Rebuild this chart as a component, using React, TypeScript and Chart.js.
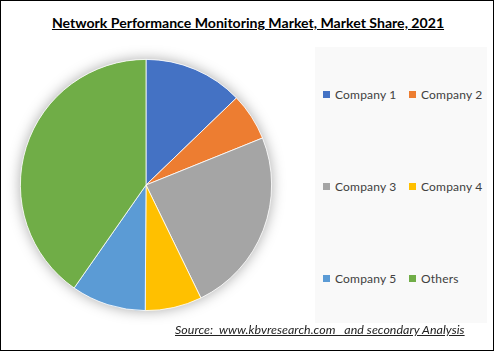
import React, { useEffect, useRef } from "react";
import { Chart, registerables } from "chart.js";

Chart.register(...registerables);

const categories = ["Company 1", "Company 2", "Company 3", "Company 4", "Company 5", "Others"];
const shares = [12.8, 6.1, 23.9, 7.3, 9.6, 40.3];
const colors = ["#4472C4", "#ED7D31", "#A5A5A5", "#FFC000", "#5B9BD5", "#70AD47"];
const titleText = "Network Performance Monitoring Market, Market Share, 2021";
const sourceText = "Source:  www.kbvresearch.com   and secondary Analysis";

const FONT = "Lato, 'Open Sans', sans-serif";

const shadowPlugin = {
  id: "pieShadow",
  beforeDatasetsDraw(chart: any) {
    const meta = chart.getDatasetMeta(0);
    const arc = meta.data[0];
    if (!arc) return;
    const ctx = chart.ctx;
    ctx.save();
    ctx.shadowColor = "rgba(0,0,0,0.35)";
    ctx.shadowBlur = 14;
    ctx.shadowOffsetX = 0;
    ctx.shadowOffsetY = 0;
    ctx.beginPath();
    ctx.arc(arc.x, arc.y, arc.outerRadius, 0, Math.PI * 2);
    ctx.fillStyle = "#ffffff";
    ctx.fill();
    ctx.restore();
  },
};

export default function App() {
  const ref = useRef<HTMLCanvasElement | null>(null);

  useEffect(() => {
    if (!ref.current) return;
    const chart = new Chart(ref.current, {
      type: "pie",
      data: {
        labels: categories,
        datasets: [
          {
            data: shares,
            backgroundColor: colors,
            borderColor: "#ffffff",
            borderWidth: 0.8,
          },
        ],
      },
      options: {
        animation: false,
        responsive: false,
        devicePixelRatio: 1,
        layout: { padding: 19 },
        plugins: {
          legend: { display: false },
          tooltip: { enabled: false },
          title: { display: false },
        },
      },
      plugins: [shadowPlugin],
    });
    return () => chart.destroy();
  }, []);

  const rows = [
    [0, 1],
    [2, 3],
    [4, 5],
  ];
  const rowY = [93, 185, 277];
  const colX = [322, 408];

  return (
    <div
      style={{
        position: "fixed",
        left: 0,
        top: 0,
        width: 494,
        height: 351,
        boxSizing: "border-box",
        border: "1px solid #000",
        background: "#fff",
        overflow: "hidden",
        fontFamily: FONT,
      }}
    >
      <div
        style={{
          position: "absolute",
          left: 0,
          top: 13,
          width: 494,
          textAlign: "center",
          fontWeight: 700,
          fontSize: 14.1,
          textDecoration: "underline",
          color: "#000",
          lineHeight: "18px",
          whiteSpace: "nowrap",
        }}
      >
        {titleText}
      </div>
      <div
        style={{
          position: "absolute",
          left: 314,
          top: 46,
          width: 172,
          height: 276,
          background: "#f9f9f9",
        }}
      />
      {rows.map((r, ri) =>
        r.map((idx, ci) => (
          <div
            key={idx}
            style={{
              position: "absolute",
              left: colX[ci],
              top: rowY[ri] - 8,
              height: 16,
              display: "flex",
              alignItems: "center",
              fontSize: 12,
              color: "#404040",
              whiteSpace: "nowrap",
              letterSpacing: 0.2,
            }}
          >
            <span
              style={{
                display: "inline-block",
                width: 7,
                height: 7,
                background: colors[idx],
                marginRight: 5,
              }}
            />
            {categories[idx]}
          </div>
        ))
      )}
      <canvas
        ref={ref}
        width={290}
        height={290}
        style={{ position: "absolute", left: 0, top: 39, width: 290, height: 290 }}
      />
      <div
        style={{
          position: "absolute",
          left: 174,
          top: 321,
          fontStyle: "italic",
          fontSize: 12.4,
          letterSpacing: 0.05,
          textDecoration: "underline",
          color: "#222",
          whiteSpace: "pre",
          lineHeight: "16px",
        }}
      >
        {sourceText}
      </div>
    </div>
  );
}
